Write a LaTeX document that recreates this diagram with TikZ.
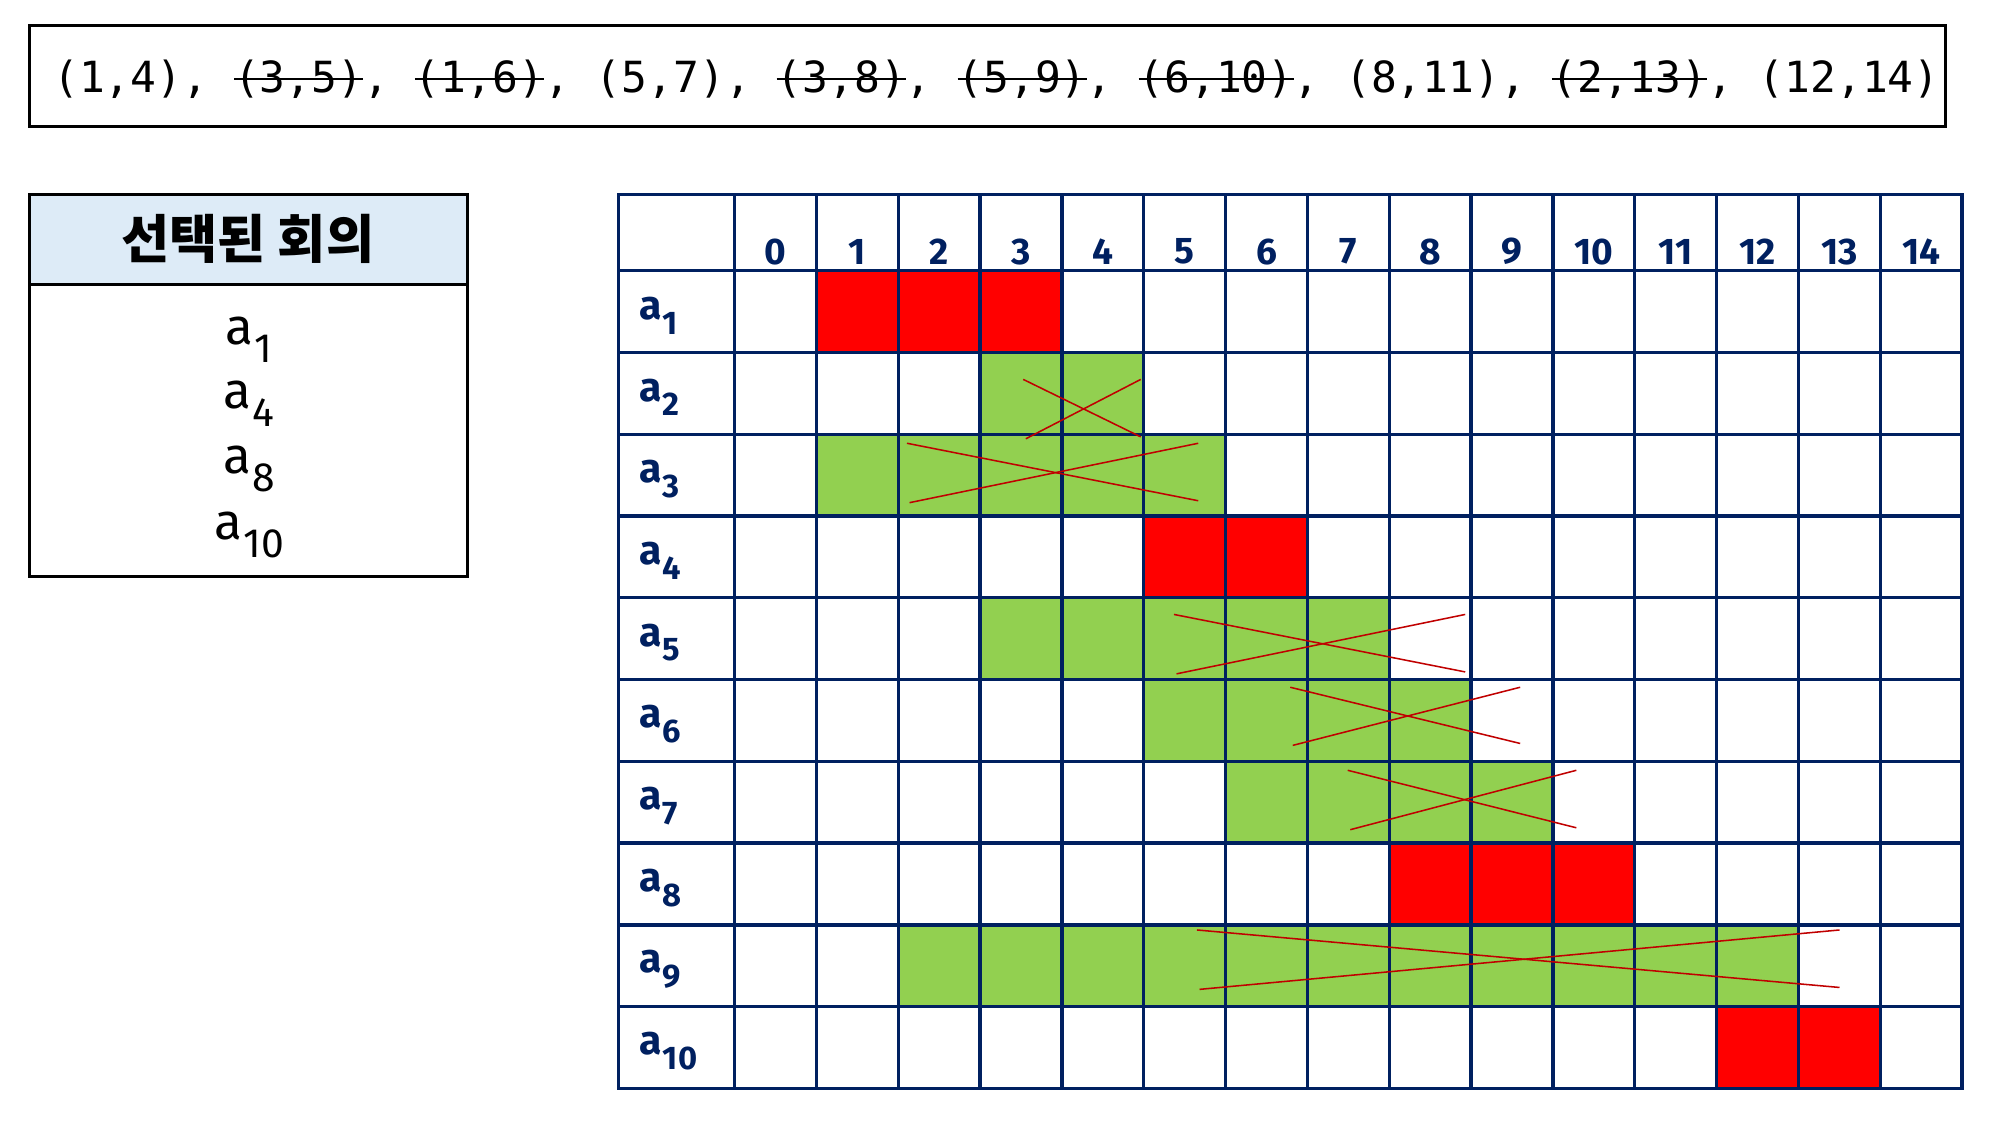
\documentclass[tikz,border=0pt]{standalone}
\usepackage{fontspec}
\usepackage{graphicx}
\setmainfont{Noto Sans CJK KR}
\newfontfamily\pairfont{DejaVu Sans Mono}
\newfontfamily\labelfont{Fira Sans}

\definecolor{gridnavy}{HTML}{002060}
\definecolor{pickred}{HTML}{FF0000}
\definecolor{dropgreen}{HTML}{92D050}
\definecolor{crossred}{HTML}{C00000}
\definecolor{headblue}{HTML}{DDEBF7}

\tikzstyle{framebox}=[draw=black,line width=1.1pt]
\tikzstyle{gridline}=[draw=gridnavy,line width=1.3pt]
\tikzstyle{chosencell}=[fill=pickred]
\tikzstyle{droppedcell}=[fill=dropgreen]
\tikzstyle{crossline}=[draw=crossred,line width=0.6pt]
\tikzstyle{numlabel}=[text=gridnavy,font=\labelfont\bfseries\fontsize{14.5}{14.5}\selectfont]
\tikzstyle{rowlabel}=[text=gridnavy,anchor=west,inner sep=0pt,font=\labelfont\bfseries\fontsize{16}{16}\selectfont]
\tikzstyle{picklabel}=[font=\labelfont\fontsize{20}{20}\selectfont]

\newcommand{\meet}[1]{a\kern0.03em\raisebox{-0.36em}{\scalebox{0.8}{#1}}}
\newsavebox{\strikebox}
\newcommand{\strike}[1]{\sbox{\strikebox}{#1}\rlap{\rule[0.28em]{\wd\strikebox}{0.8pt}}\usebox{\strikebox}}

\begin{document}
\begin{tikzpicture}[x=0.5pt,y=-0.5pt]
  \useasboundingbox (0,0) rectangle (1568,893);

  % list of meetings
  \draw[framebox] (23,20) rectangle (1523,99);
  \node (pairs) at (780,62) {\pairfont\fontsize{16.8}{16.8}\selectfont
    (1,4), \strike{(3,5)}, \strike{(1,6)}, (5,7), \strike{(3,8)}, \strike{(5,9)}, \strike{(6,10)}, (8,11), \strike{(2,13)}, (12,14)};

  % selected meetings
  \fill[headblue] (23,152) rectangle (366,223);
  \draw[framebox] (23,152) rectangle (366,451);
  \draw[framebox] (23,223) -- (366,223);
  \node[font=\bfseries\fontsize{20.5}{20.5}\selectfont] (title) at (194,187) {선택된 회의};
  \node[picklabel] (pick1) at (195,266) {\meet{1}};
  \node[picklabel] (pick4) at (195,316) {\meet{4}};
  \node[picklabel] (pick8) at (195,367) {\meet{8}};
  \node[picklabel] (pick10) at (195,419) {\meet{10}};

  % time table
  \foreach \r/\s/\f/\look in {1/1/4/chosencell, 2/3/5/droppedcell, 3/1/6/droppedcell,
      4/5/7/chosencell, 5/3/8/droppedcell, 6/5/9/droppedcell, 7/6/10/droppedcell,
      8/8/11/chosencell, 9/2/13/droppedcell, 10/12/14/chosencell}
    \fill[\look] ({575+64.07*\s},{148+64*\r}) rectangle ({575+64.07*\f},{212+64*\r});

  \foreach \r in {0,...,9}
    \draw[gridline] (484,{212+64*\r}) -- (1536,{212+64*\r});
  \foreach \c in {0,...,14}
    \draw[gridline] ({575+64.07*\c},152) -- ({575+64.07*\c},852);
  \draw[gridline] (484,152) rectangle (1536,852);

  \foreach \n in {0,...,14}
    \node[numlabel] (num\n) at ({607+64.07*\n},197) {\n};
  \foreach \r in {1,...,10}
    \node[rowlabel] (row\r) at (500,{183+64*\r}) {\meet{\r}};

  % rejected meetings
  \foreach \xa/\xb/\yt/\yb in {801/893/297/342, 710/938/347/392, 919/1147/481/526,
      1010/1190/538/582, 1055/1234/603/648, 937/1440/728/773} {
    \draw[crossline] (\xa,\yt) -- (\xb,\yb);
    \draw[crossline] ({\xa+2},{\yb+1.5}) -- (\xb,\yt);
  }
\end{tikzpicture}
\end{document}
